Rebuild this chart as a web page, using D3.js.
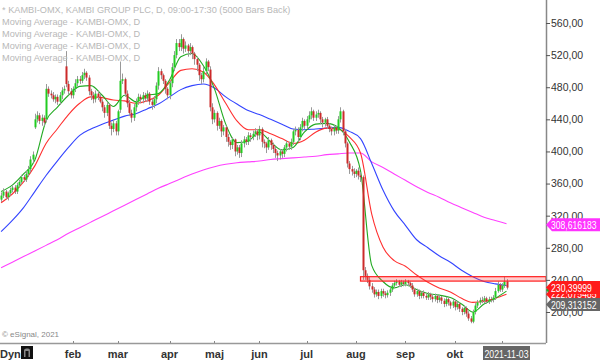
<!DOCTYPE html>
<html><head><meta charset="utf-8">
<script src="https://cdn.jsdelivr.net/npm/d3@7/dist/d3.min.js"></script>
<style>body{margin:0;background:#fff;} svg{display:block;font-family:"Liberation Sans",Arial,sans-serif;}</style>
</head><body><svg id="c" width="600" height="360"></svg>
<script>
// ---------- DATA ----------
const firstDay = "2020-12-10";
const holidays = ["2020-12-24","2020-12-25","2020-12-31","2021-01-01","2021-01-06","2021-04-02","2021-04-05","2021-05-13","2021-06-25"];
const monthNames = ["feb","mar","apr","maj","jun","jul","aug","sep","okt","nov"];
const monthKeys = ["2021-02","2021-03","2021-04","2021-05","2021-06","2021-07","2021-08","2021-09","2021-10","2021-11"];
const lastDateLabel = "2021-11-03";

const open = [340,345,350,343,348,352,355,350,358,362, 368,365,372,378,390,430,440,445,438,442,
440,478,472,470,465,468,462,470,476,506, 484,475,470,478,485,490,488,495,498,492,
475,470,465,472,468,462,455,448,458,432, 428,435,425,452,488,490,472,460,448,442,
455,462,468,465,470,466,472,462,458,465, 482,500,495,488,478,470,485,505,520,535,
530,540,528,532,525,530,522,515,508,495, 490,500,512,502,455,440,448,432,438,425,
430,418,412,408,415,400,405,398,410,415, 412,420,418,422,425,420,428,412,410,405,
414,408,403,398,395,400,397,405,410,406, 412,425,427,418,430,438,432,440,445,450,
442,446,448,440,436,440,432,428,425,430, 426,440,450,425,410,385,378,375,372,376,
370,368,252,245,240,232,228,222,225,220, 226,223,221,224,228,233,236,238,234,237,
235,238,236,233,228,222,226,220,224,220, 218,222,219,216,220,215,218,214,210,216,
212,208,213,206,210,204,200,205,198,192, 188,200,208,212,215,214,217,213,216,215,
218,226,234,228,233,238];
const high = [349,354,352,350,355,358,358,361,365,371, 371,376,382,394,400,447,450,448,446,445,
484,481,476,474,471,471,474,480,482,525, 488,479,481,490,494,494,499,503,500,495,
478,474,476,476,472,465,458,462,460,436, 440,438,452,512,497,492,476,464,452,459,
466,472,471,474,473,476,474,466,469,486, 505,503,497,490,480,488,510,525,540,540,
546,542,537,534,535,532,524,518,510,498, 505,516,514,506,460,452,450,442,440,433,
432,422,414,418,416,408,408,414,419,418, 424,423,426,429,428,432,430,415,412,418,
416,411,406,401,403,403,408,414,412,416, 428,431,430,434,442,440,444,450,455,452,
450,452,450,443,442,443,435,431,433,432, 444,455,452,428,412,388,382,379,378,380,
374,370,256,248,244,236,231,228,228,229, 229,226,227,231,236,239,241,240,240,239,
241,240,238,236,230,229,228,226,227,223, 225,224,222,223,222,221,220,217,219,218,
214,216,215,213,212,206,208,207,201,195, 203,211,215,218,219,220,219,219,219,221,
230,238,236,236,244,241];
const low = [337,342,340,339,345,349,347,347,355,359, 362,362,368,374,386,428,436,434,432,432,
436,468,466,462,460,458,458,465,472,480, 470,466,466,474,481,484,485,490,488,470,
464,460,461,464,460,450,442,444,428,420, 424,420,420,448,484,468,455,444,436,438,
450,458,460,460,462,462,458,452,454,460, 477,490,484,472,465,465,480,500,516,525,
525,522,524,518,520,515,508,500,488,484, 486,496,500,450,434,436,426,428,418,420,
412,406,402,403,394,396,392,393,405,408, 408,412,414,418,414,415,405,404,398,402,
402,398,392,388,390,392,393,400,402,402, 408,420,412,414,425,428,428,436,440,438,
438,442,434,430,431,428,424,420,420,422, 422,436,420,405,380,372,370,367,368,365,
362,240,240,236,228,224,218,219,216,217, 219,217,218,220,225,230,233,231,231,232,
232,232,230,225,219,219,216,217,217,215, 215,215,212,213,211,212,210,206,207,208,
204,205,202,203,200,196,197,194,189,186, 186,197,205,209,211,211,210,210,212,212,
215,224,225,225,230,228];
const close = [345,350,343,348,352,355,350,358,362,368, 365,372,378,390,396,440,445,438,442,436,
478,472,470,465,468,462,470,476,478,484, 475,470,478,485,490,488,495,498,492,475,
470,465,472,468,462,455,448,458,432,428, 435,425,450,488,490,472,460,448,442,455,
462,468,465,470,466,472,462,458,465,482, 500,495,488,478,470,485,505,520,535,530,
540,528,532,525,530,522,515,508,495,490, 500,512,505,455,440,448,432,438,425,430,
418,412,408,415,400,405,398,410,415,412, 420,418,422,425,420,428,412,410,405,414,
408,403,398,395,400,397,405,410,406,412, 425,427,418,430,438,432,440,445,450,442,
446,448,440,436,440,432,428,425,430,426, 440,450,425,410,385,378,375,372,376,370,
368,252,245,240,232,228,222,225,220,226, 223,221,224,228,233,236,238,234,237,235,
238,236,233,228,222,226,220,224,220,218, 222,219,216,220,215,218,214,210,216,212,
208,213,206,210,204,200,205,198,192,188, 200,208,212,215,214,217,213,216,215,218,
226,234,228,233,238,230.4];

// moving averages at every 5th bar (bar index in maBars)
const maBars = [0,5,10,15,20,25,30,35,40,45,50,55,60,65,70,75,80,85,90,95,100,105,110,115,120,125,130,135,140,145,150,155,160,165,170,175,180,185,190,195,200,205,210,215,220,225];
const maGreen = [350,358,372,389,438,455,470,481,482,470,456,470,462,470,472,489,518,522,507,478,434,411,413,424,412,402,405,424,434,435,430,412,376,258,238,230,234,228,223,221,218,210,200,210,217,226];
const maRed = [336,347,362,382,410,428,446,460,468,467,464,463,460,463,470,486,501,503,499,483,460,438,427,427,422,416,410,414,424,429,428,418,398,322,281,264,257,246,237,230,225,217,212,213,217,222];
const maBlue = [300,314,330,350,370,388,405,420,428,434,439,444,447,453,459,468,477,482,484,479,468,459,451,446,440,434,428,427,428,429,430,425,416,385,352,326,308,290,280,270,262,252,244,238,235,233];
const maMagenta = [255,262,269,276,283,290,298,305,312,319,326,333,340,347,354,360,366,372,377,381,384,386,387,388,390,391,392,393,394,396,397,398,398,387,380,372,364,356,349,343,336,330,324,318,314,310];

const yTicks = [200,240,280,320,360,400,440,480,520,560];
const bandStartBar = 160;
const bandLevels = [238.5, 244];
const priceTags = [
  {v:227.4, text:"", color:"#22aa22"},
  {v:222.075485, text:"222,075485", color:"#ff1a1a"},
  {v:230.39999, text:"230,39999", color:"#ff1a1a"},
  {v:209.313152, text:"209,313152", color:"#666666"},
  {v:308.616183, text:"308,616183", color:"#ff33ff"}
];
const legendLines = ["* KAMBI-OMX, KAMBI GROUP PLC, D, 09:00-17:30 (5000 Bars Back)",
  "Moving Average - KAMBI-OMX, D","Moving Average - KAMBI-OMX, D","Moving Average - KAMBI-OMX, D","Moving Average - KAMBI-OMX, D"];

// ---------- DATES (trading days) ----------
const dates = [];
{
  let d = new Date(firstDay + "T12:00:00Z");
  while (dates.length < close.length) {
    const s = d.toISOString().slice(0,10);
    const wd = d.getUTCDay();
    if (wd !== 0 && wd !== 6 && !holidays.includes(s)) dates.push(s);
    d.setUTCDate(d.getUTCDate() + 1);
  }
}
const bars = dates.map((d,i)=>({d, o:open[i], h:high[i], l:low[i], c:close[i]}));

// ---------- LAYOUT ----------
const svg = d3.select("#c");
const axisX = 546, axisY = 343;
const x = d3.scalePoint().domain(dates).range([1.1, 506.5]);
const y = d3.scaleLinear().domain([200,560]).range([312,23]);

const plot = svg.append("g");
svg.append("defs").append("clipPath").attr("id","pc").append("rect")
  .attr("x",0).attr("y",0).attr("width",axisX).attr("height",axisY);
plot.attr("clip-path","url(#pc)");

// legend
svg.append("g").selectAll("text").data(legendLines).join("text")
  .attr("x",2).attr("y",(d,i)=>12.5+i*12)
  .attr("font-size",9.2).attr("fill","#b8b8b8").text(d=>d);

// MA lines
const maLine = vals => d3.line()
  .x((v,i)=>x(dates[maBars[i]])).y(v=>y(v)).curve(d3.curveMonotoneX)(vals);
[[maMagenta,"#ff40ff"],[maBlue,"#3344ff"],[maRed,"#ff3030"],[maGreen,"#22aa22"]].forEach(([vals,col])=>{
  plot.append("path").attr("d",maLine(vals)).attr("fill","none").attr("stroke",col).attr("stroke-width",1.1);
});

// candles
const cg = plot.append("g");
cg.selectAll("line").data(bars).join("line")
  .attr("x1",d=>Math.round(x(d.d))+0.5).attr("x2",d=>Math.round(x(d.d))+0.5)
  .attr("y1",d=>y(d.h)).attr("y2",d=>y(d.l))
  .attr("stroke","#999").attr("stroke-width",1);
cg.selectAll("rect").data(bars).join("rect")
  .attr("x",d=>Math.round(x(d.d))-0.5).attr("width",2)
  .attr("y",d=>y(Math.max(d.o,d.c)))
  .attr("height",d=>Math.max(1,Math.abs(y(d.o)-y(d.c))))
  .attr("fill",d=>d.c>=d.o?"#22cc22":"#cc2a2a");

// red band
plot.append("rect")
  .attr("x",x(dates[bandStartBar])).attr("width",axisX-x(dates[bandStartBar]))
  .attr("y",y(bandLevels[1])).attr("height",y(bandLevels[0])-y(bandLevels[1]))
  .attr("fill","rgba(255,90,90,0.3)").attr("stroke","#ff2020").attr("stroke-width",1.2);

// axes lines
svg.append("line").attr("x1",axisX+0.5).attr("x2",axisX+0.5).attr("y1",0).attr("y2",axisY)
  .attr("stroke","#888").attr("stroke-width",1.5);
svg.append("line").attr("x1",0).attr("x2",axisX).attr("y1",axisY+0.5).attr("y2",axisY+0.5)
  .attr("stroke","#999").attr("stroke-width",1.5);

// right axis
const yAxis = d3.axisRight(y).tickValues(yTicks).tickSize(4).tickPadding(1)
  .tickFormat(v=>d3.format(".2f")(v).replace(".",","));
const ya = svg.append("g").attr("transform",`translate(${axisX},0)`).call(yAxis);
ya.select(".domain").remove();
ya.selectAll("line").attr("stroke","#555");
ya.selectAll("text").attr("font-size",10.5).attr("fill","#333").attr("font-family","Liberation Sans, Arial, sans-serif");

// price tags
const tg = svg.append("g");
priceTags.forEach(t=>{
  const yy = y(t.v);
  tg.append("path").attr("d",`M${axisX},${yy}L${axisX+6},${yy-6.5}H600V${yy+6.5}H${axisX+6}Z`).attr("fill",t.color);
  if (t.text) tg.append("text").attr("x",axisX+5).attr("y",yy+4).attr("font-size",10.3)
    .attr("textLength", t.text.length*4.55).attr("lengthAdjust","spacingAndGlyphs")
    .attr("fill","#fff").text(t.text);
});

// bottom axis
const monthTicks = monthKeys.map(k=>dates.find(d=>d.startsWith(k)));
const xa = svg.append("g");
xa.selectAll("line").data(monthTicks).join("line")
  .attr("x1",d=>Math.round(x(d))+0.5).attr("x2",d=>Math.round(x(d))+0.5)
  .attr("y1",axisY-2).attr("y2",axisY).attr("stroke","#888");
xa.selectAll("text").data(monthTicks.slice(0,9)).join("text")
  .attr("x",d=>x(d)).attr("y",358).attr("text-anchor","middle")
  .attr("font-size",11).attr("font-weight","bold").attr("fill","#333")
  .text((d,i)=>monthNames[i]);

// last date box
const lx = x(dates[dates.length-1]);
svg.append("rect").attr("x",lx-23.5).attr("y",346).attr("width",47).attr("height",14).attr("fill","#666");
svg.append("text").attr("x",lx).attr("y",357.5).attr("text-anchor","middle").attr("font-size",10.5)
  .attr("textLength",44).attr("lengthAdjust","spacingAndGlyphs")
  .attr("fill","#fff").text(lastDateLabel);

// footer
svg.append("text").attr("x",2).attr("y",337).attr("font-size",8).attr("fill","#888").text("© eSignal, 2021");
svg.append("text").attr("x",0).attr("y",358).attr("font-size",11).attr("font-weight","bold").attr("fill","#333").text("Dyn");
svg.append("rect").attr("x",21).attr("y",346).attr("width",12).attr("height",13).attr("fill","#111");
svg.append("path").attr("d","M24,357V350.5Q24,348.5 26.5,348.5H28Q30,348.5 30,350.5V357H28.5V351H25.5V357Z").attr("fill","#888");
</script></body></html>
